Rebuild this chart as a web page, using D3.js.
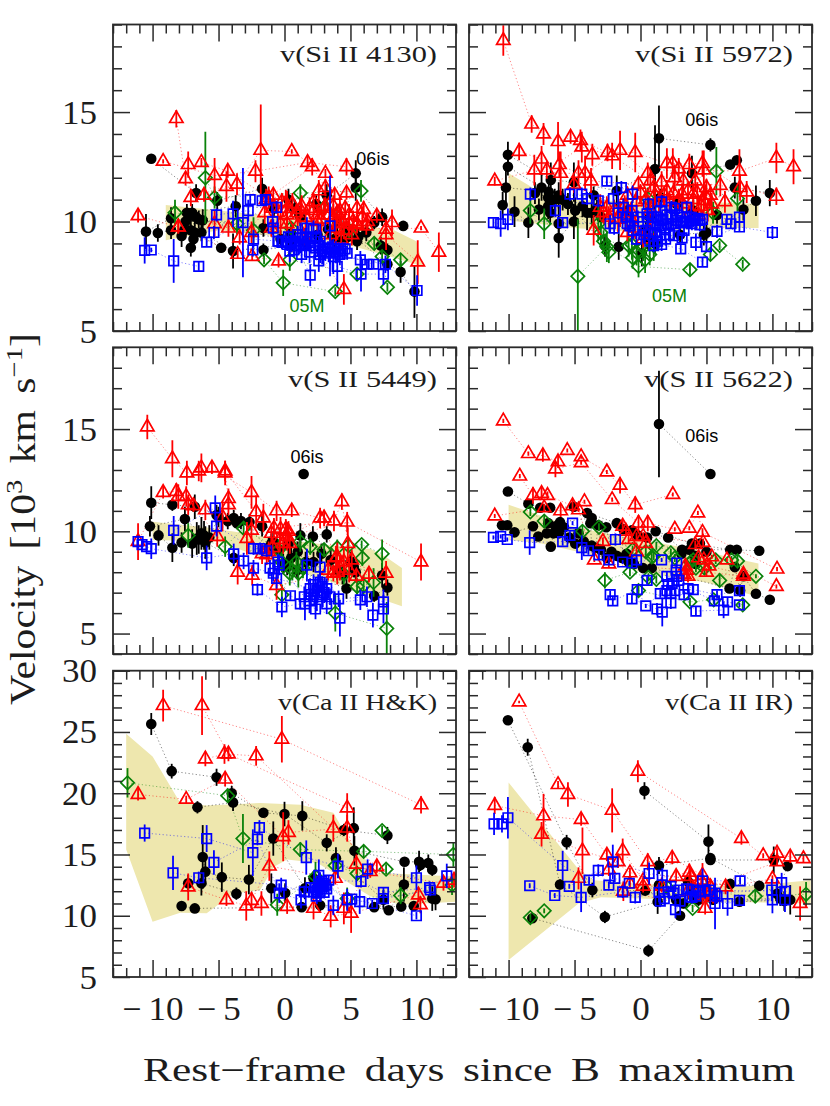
<!DOCTYPE html>
<html><head><meta charset="utf-8">
<script src="https://cdn.jsdelivr.net/npm/d3@7"></script>
<style>html,body{margin:0;padding:0;background:#fff}svg{display:block}</style></head>
<body><svg id="c" width="830" height="1106"></svg>
<script>
// Each series is a list of supernova tracks; each point is [day, velocity, error] (10^3 km/s)
const si4130Band=[[-9,10.75],[-5,10.5],[0,10.2],[5,9.9],[8.3,9.6],[10,9.1],[10.5,7.95],[8,8.4],[5,8.9],[0,9.3],[-5,9.6],[-9,9.15]];
const si4130Black=[
[[-10.1,12.87,.15],[-6.7,11.3,.4],[-5.1,10.95,.4],[-1.7,11.5,.5],[.3,11,.5],[3.2,11.2,.5],[5.4,12.2,.6]],
[[-10.5,9.54,.8],[-8.6,10.15,.5],[-7.4,10.4,.4],[-3.7,10.7,.5],[-.8,10.6,.4],[1.2,10.2,.4],[4,10,.5],[5.4,11.55,.6],[7.4,10.2,.4],[9,9.8,.2]],
[[-9.6,9.48,.4],[-8.6,9.6,.4],[-7.5,10,.4],[-6.2,10.06,.5],[-1.6,9.7,.4],[.5,9.45,.4],[3.3,9.65,.4],[6.8,9.95,.3]],
[[-7.8,9.34,.5],[-7,10.4,.4],[-6.8,9.5,.5],[-4.8,8.8,.2],[-1.6,8.7,.3],[.55,8.9,.3],[2.5,9.4,.4],[4.3,9.1,.4],[5.5,9.1,.4],[7.3,8.9,.4],[7.8,8.7,.3]],
[[-7.1,9.6,.5],[-6.3,9.5,.4],[-7.1,8.8,.4],[-3.9,8.65,.8],[1.6,9.05,.4],[4.7,9.6,.4],[7.8,8.05,.3],[8.8,7.7,.5],[9.85,6.8,1.2]],
[[-7.6,9.6,.4],[-7.2,10.3,.3],[-6.9,9.2,.4],[-6.7,10.2,.3],[-6.5,10.1,.4],[-.3,9.2,.4],[.8,10.6,.4],[2.4,10.8,.4],[3.8,9.2,.4],[4.8,9.3,.4],[5.6,9.3,.4],[6.2,9.5,.4]]];
const si4130Green=[
[[-8.3,10.4,.6],[-3.6,9.9,.5],[-2.35,9.6,.6],[.5,9.7,.3],[3,10.65,.3],[4.9,9.6,.4],[6.8,9,.3],[8.8,8.25,.3]],
[[-6,12,2.1],[-5.3,11.1,.5],[1.2,11.3,.4],[5.8,11.4,.5]],
[[-1.55,8.25,.2],[-.1,7.2,.6],[3.85,6.8,.2]],
[[.4,8.25,.5],[5.5,7.6,.3],[7.4,8.4,.3],[7.8,7,.2]]];
const si4130Red=[
[[-11.1,10.26,.3],[-8.05,9.75,.3],[-5.3,9.9,.6],[-4.25,9.7,.4],[-2.5,9.5,.5],[.2,9.9,.4],[2.5,10,.5],[4.5,9.9,.4],[7.7,9.65,.4],[10.35,9.7,.1],[11.7,8.6,.9]],
[[-9.2,12.75,.1],[-5.3,12.1,.8],[-2.2,12.3,.5],[1.75,12.7,.3],[4.7,12.5,.4]],
[[-8.2,14.7,.4],[-7.3,12.6,.6],[-7.5,11.95,.3],[-7.1,11.1,.4],[-4.4,11.6,.7],[.1,10.85,.6],[3,10.6,.5],[6,10.55,.4],[8.15,9.95,.6]],
[[-6.3,12.7,.2],[-4.3,12.3,.3],[-1.2,11.1,.5],[2.1,12.5,.4],[3.1,11.55,.4],[4.7,11.3,.3],[7,10.25,.3],[7.7,9.4,.7],[10.1,8.15,1]],
[[-6.1,11.2,.3],[-3.6,11.7,.5],[-1.8,13.25,2.1],[.55,13.2,.1],[3.1,12.2,.2],[3.8,11.2,.3]],
[[-8.05,9.75,.3],[-3.55,8.5,.2],[-2.45,8.4,.2],[-.45,8.2,.3],[1.5,9.3,.4],[4.5,6.9,.7]],
[[-3.4,9.25,.3],[-1.5,10.4,.5],[-.85,11.2,.3],[.2,10.6,.8],[1.2,10.55,.5],[2.2,10.5,.5],[4.2,10.5,.7],[3.7,10.2,.6],[4.9,9.9,.6],[5.5,9.85,.4],[6.2,9.8,.4],[2.6,11.4,.5]],
[[-1.4,11,.5],[-1,9.7,.4],[-.9,10.6,.4],[-.5,10.4,.5],[-.3,9.9,.5],[-.2,10.9,.4],[.2,10.3,.5],[.6,10.8,.5],[.9,10.4,.4],[1,9.8,.4],[1.3,10.7,.5],[1.6,10.2,.6],[1.9,10.6,.5],[2.2,10.9,.4],[2.5,10.3,.5],[2.8,10.1,.6],[3.1,10.7,.4],[3.4,10.3,.5],[3.5,9.4,.5],[3.7,10.7,.5],[3.9,9.7,.6],[4,10.4,.4],[4.3,10.1,.5],[4.3,9.2,.5],[4.5,9.6,.4],[4.6,10.6,.4],[4.9,10.3,.5],[5.1,9.4,.5],[5.2,10,.5],[5.5,10.6,.4],[5.5,9.9,.4],[5.9,10.2,.5],[6.3,10,.4]]];
const si4130Blue=[
[[-10.6,8.68,.6],[-10.1,8.7,.1],[-8.4,8.2,1],[-6.5,7.95,.2]],
[[-5.9,9.06,.2],[-3.15,9.95,2.5],[-.85,9.7,.4],[.4,8.65,.5],[2.85,8.65,.6],[5.75,8.25,.4],[7.65,8.05,.4],[10.05,6.85,.7]],
[[-5.35,9.5,.3],[-3.9,10.35,.6],[-2.35,9.2,.4],[-.45,9.1,.3],[1.3,8.5,.4],[2.6,8.2,.5],[4,7.95,.9],[5.8,7.6,.8],[7.5,7.6,.5]],
[[-5.15,10.3,.3],[-2.75,10.5,.5],[-.9,10,.6],[1.2,9.25,.7],[2.7,9.1,.8],[3.45,9.8,2.3],[4.75,8.55,.3],[6.25,8.05,.2]],
[[-2.6,11,.2],[-1.7,10.95,.2],[-1.45,11,.2],[-.6,10.65,.3],[.2,8.95,.3],[1.7,9.7,.5],[3.45,8.55,.5],[4.2,8.5,.5],[6.75,8.05,.2]],
[[-2.4,8.7,.3],[.9,8.9,.4],[2.2,9.65,.4],[1.95,7.55,.5],[3.7,8.4,.8]],
[[-.5,9.1,.3],[-.2,9.05,.3],[.1,9.1,.4],[.3,9.3,.3],[.5,9,.4],[.7,8.7,.3],[.8,9.1,.3],[1,9.4,.4],[1.1,8.9,.4],[1.4,8.95,.3],[1.6,9.3,.4],[1.8,9.1,.4],[1.9,8.6,.5],[2,8.9,.3],[2.3,8.8,.4],[2.4,9.3,.3],[2.6,8.9,.4],[2.7,8.5,.4],[2.9,8.75,.3],[3.1,8.6,.4],[3.3,8.8,.3],[3.6,8.75,.4],[3.9,8.6,.5],[4.1,8.75,.3],[4.4,8.65,.4],[4.6,8.75,.3]]];

const si5972Band=[[-10,12.2],[-7.5,11.3],[-5,11],[0,10.9],[5,10.9],[8.95,10.8],[8.95,9.7],[5,9.7],[0,9.5],[-5,9.7],[-10,10.05]];
const si5972Black=[
[[-10.05,13.05,.6],[-6.8,11.9,.8],[-5.05,11.8,.9],[-1.8,11.4,.7],[1.1,12.4,2],[3.9,12.2,.8],[6.8,12.6,.2],[7.3,12.8,.2]],
[[-10.05,12.5,.4],[-7.5,11.55,.6],[-6.2,11.2,.6],[-3.55,11.2,.4],[-1,10.5,.6],[1.5,11.1,.4],[4,10.5,.5],[7.15,11.55,.5],[9.8,11.3,.6]],
[[-10.2,11.55,.8],[-6.95,11.35,.5],[-4.95,10.5,.6],[-2.7,8.9,.5],[-1.65,8.85,.6],[.1,8.55,.6],[.5,9.25,.5],[2.75,10.8,.4],[4.8,9.4,.5],[7.8,10.55,.5],[8.75,10.95,.7]],
[[-10.45,10.75,.6],[-9.55,10.45,.7],[-8.5,9.95,.7],[-7.7,10.55,.5],[-6.85,10.4,.5],[-6.2,9.9,.8],[-6.2,9.25,.9],[-5.05,10,.8],[-4.05,10.4,.8]],
[[1.4,13.8,1.5],[5.3,13.5,.3]],
[[-8,11.3,.5],[-7,11.1,.5],[-7,10.7,.6],[-6.5,11,.5],[-5.9,11,.5],[-5.5,10.8,.5],[-4.4,10.7,.5],[-3.7,10.4,.5],[-3.3,10.6,.4],[-3,10.2,.5],[.4,9.6,.4],[.7,10.2,.5],[1.1,9,.5],[3,9.4,.4],[5,9.5,.5],[5.8,10.3,.4]]];
const si5972Green=[
[[-8.35,10.5,.6],[-7.3,9.9,.7],[-3.2,9.9,.8],[-2.8,9.1,.5],[-.65,8.95,.7],[1,8.9,.7],[5.5,10.4,.5],[7.35,11.05,.6]],
[[-4.75,7.5,2.6],[-2.55,8.85,.7],[-.15,7.95,.5],[3.75,7.8,.3]],
[[-.6,8.35,.5],[.35,8.25,.6],[.55,11.05,.5],[5.75,12.3,1.1]],
[[5.3,8.5,.3],[6,8.9,.2],[7.75,8.05,.2]],
[[-3,9.5,.5],[-2.4,8.6,.5],[-.9,8.9,.5],[-.3,8.6,.6],[.2,8.8,.6],[.7,8.5,.5]]];
const si5972Red=[
[[-10.4,18.27,.7],[-8.25,14.45,.4],[-7.35,14,.5],[-6.25,13.65,.9],[-5.3,13.85,.3],[-4.55,13.7,.5],[-2.5,13.15,.4],[-.4,13.15,.9],[2,12.65,.7],[4.7,12.65,.6],[7.55,11.55,.6],[10.3,11.15,.4]],
[[-11.05,11.85,.2],[-8.05,12.35,.7],[-6.05,12.2,1],[-4.2,12.2,.8],[-1.55,13.25,.9],[.55,12.2,.5],[2.45,12.65,.7],[4.8,12.35,.9],[7.5,12.3,1],[10.3,12.9,.7],[11.6,12.5,.8]],
[[-9.2,13.2,.4],[-7.5,12.85,.6],[-7.1,12.35,.4],[-4.45,13.4,.7],[-2.15,13,.6],[.75,11.85,.5],[3.25,11.85,.6],[6.05,11.65,.5],[8.05,11.35,.5]],
[[-6.15,12.6,.6],[-4.7,12.2,.6],[-3.75,11.85,.6],[-.15,11.7,.3],[1.6,11.8,.5],[2.6,12,.6],[4.15,11.85,.5],[5,11.55,.4],[6.4,10.9,.5]],
[[-3.65,13.05,.5],[-3.55,9.6,.7],[-3.05,10.65,.6],[-1.55,10.35,.6],[-.8,10.2,.6],[1,11.55,.4],[2,11.4,.5],[3.15,11.25,.5],[4,11.25,.5],[5.3,11.2,.5],[4.8,10.95,.6]],
[[-5.05,11.7,.4],[-2.55,10.65,.5],[2.9,12.4,.5],[3.7,12.6,.5]],
[[-2.8,10.4,.5],[-2.4,10.2,.5],[-2,10.5,.5],[-1.7,10.1,.6],[-1.2,10.7,.5],[-1,11.2,.4],[-1,9.5,.4],[-.7,10.4,.5],[-.4,9.7,.5],[-.3,10.9,.5],[0,11.3,.4],[.2,9.2,.4],[.4,11,.5],[.7,10.5,.5],[.7,9.6,.4],[1.1,11.2,.5],[1.4,10.9,.5],[1.8,11.2,.4],[2.2,10.9,.5],[2.5,11.3,.5],[2.9,11,.5],[3.2,10.8,.5],[3.6,11.4,.4],[3.8,10.4,.5],[4,11,.5],[4.3,11.3,.5],[4.4,10.3,.5],[4.6,10.7,.5],[4.9,11.2,.5],[5.1,10.5,.5],[5.4,10.8,.5]]];
const si5972Blue=[
[[-11.15,9.95,.2],[-10.6,9.9,.6],[-10.05,10.1,.5],[-5.9,9.95,.2],[-2.3,9.9,.4],[.25,9.4,.4],[2.5,9.35,.2],[4.2,9.05,.4],[7.5,9.75,.2],[10,9.5,.3]],
[[-8.35,11.25,.3],[-5.35,11.25,.3],[-4.45,11.25,.3],[-3.2,10.95,.3],[-1.45,11.55,.3],[-.6,11.25,.4],[.5,10.35,.3],[1.5,10.5,.4],[2.35,10.65,.3],[3.5,10.65,.3],[6.55,10.1,.2],[7.5,10.2,.2]],
[[-6.45,10.5,.3],[-4.05,11.05,.3],[-2.55,11.85,.2],[-2.05,11.05,.4],[-1.3,10.65,.4],[-.65,10.5,.4],[1,10.2,.3],[2,9.9,.3],[2.75,10.05,.3],[4,10.05,.3],[5.8,9.55,.3],[6.85,9.9,.2]],
[[-.55,9.6,.4],[1.25,9.4,.3],[1.5,10.05,.3],[3.15,9.25,.2],[3.5,9.95,.3],[4.5,10.05,.3]],
[[-1,9.9,.3],[1.6,8.95,.3],[3.05,8.75,.2],[4.7,8.15,.2],[5,8.85,.2]],
[[-2,9.7,.3],[-1.7,10.4,.3],[-1.1,10.2,.3],[-.8,9.8,.3],[-.3,9.2,.3],[-.2,10.2,.3],[.2,10,.3],[.4,9.6,.3],[.6,10.2,.3],[.6,10.8,.3],[.7,9.1,.3],[.9,9.9,.3],[1,8.9,.3],[1.1,9.5,.3],[1.2,10.2,.3],[1.3,9.1,.3],[1.4,9.8,.3],[1.6,10.9,.3],[1.7,10.1,.3],[1.9,9.7,.3],[1.9,9.2,.3],[2,10.3,.3],[2.2,9.4,.3],[2.3,10.2,.3],[2.5,9.9,.3],[2.6,10.6,.3],[2.8,10.3,.3],[3,9.95,.3],[3.2,10.2,.3],[3.3,9.6,.3],[3.4,10,.3],[3.7,10.2,.3],[3.9,9.9,.3],[4.2,10.15,.3],[4.5,9.85,.3],[4.7,10.1,.3]]];

const s5449Band=[[-10,10.47],[-6,10.2],[-3,9.9],[0,9.6],[5,9.2],[6.5,9.15],[7.8,8.7],[8.9,8.2],[8.9,6.34],[5,7.2],[0,8.3],[-5,9.5],[-10,9.57]];
const s5449Black=[
[[-10.1,11.4,.8],[-8.5,11.3,.3],[-6.8,11.2,.6],[-5.15,10.8,.5],[-3.85,10.65,.4],[-2.65,10.45,.4],[-1.7,10.25,.5],[1.2,9.8,.6],[3.2,9.85,.4]],
[[-10.2,10.25,.5],[-7.55,10.6,.6],[-6.3,9.9,.8],[-3.6,10.4,.3],[.3,9.35,.5],[2.15,9.75,.5],[5.25,8.25,.5],[7.4,7.85,.6]],
[[-9.55,9.8,.5],[-8.5,9.2,.7],[-7.8,9.45,.5],[-6.65,9.65,.8],[-6,9.45,.8],[-3.85,8.7,.4],[-.85,9.5,.5],[.2,8.25,.4],[.95,8.1,.4],[4.7,7.2,.5],[7.8,7.25,.4],[6.8,6.85,.3]],
[[1.45,12.8,.1]],
[[-7,9.4,.7],[-6.5,9.6,.7],[-6.1,9.8,.7],[-5.7,9.7,.6],[-5,10.7,.5],[-4.3,10.5,.4],[-3.3,10.5,.4],[-1.2,9.2,.5],[-1,9.4,.5],[-.4,9.1,.5],[-.1,8.4,.5],[.5,8.7,.5],[1,9,.5],[1.6,8.5,.5],[2.2,8.5,.5],[2.8,8.9,.5],[3.5,8.6,.5],[4,8.1,.5],[4.4,7.9,.5],[5,8.5,.5],[5.4,8,.5]]];
const s5449Green=[
[[-7.3,9.8,.6],[-4.5,9.25,.5],[-3.1,10.15,.3],[-.45,9.1,.5],[1.2,9.5,.5],[1.95,9.25,.4],[3,9.1,.3],[4,9.2,.4],[4.85,9.3,.3],[5.85,9.35,.2],[7.4,8.9,.7]],
[[-.2,6.9,.5],[.4,7.95,.6],[1.05,7.95,.7],[5.5,7.3,.4],[6,7.35,.5],[6.75,7.5,.7]],
[[3.85,6,.9],[7.75,5.25,1.3]],
[[-.2,8.5,.5],[.6,8.1,.5],[.9,8.5,.5],[1.4,8.2,.5],[4.5,7.9,.5],[5.9,8.7,.4]]];
const s5449Red=[
[[-10.4,15.1,.6],[-8.5,13.55,.9],[-7.4,12.85,.6],[-5.5,13.1,.3],[-2.5,11.9,.8],[-.6,11,.5],[.55,11,.3],[2.7,10.65,.5]],
[[-6.5,12.95,.5],[-4.5,12.95,.5],[-2.15,10.95,.8],[-1.6,10.65,.7],[.2,9.75,.7],[4.75,10.45,.5],[10.35,8.5,.9]],
[[-6.3,13.1,.7],[-4.5,12.85,.6],[-4.25,11.6,.5],[-4.25,11.3,.5],[-2.5,10.05,.6],[-.8,10.15,.5],[3.75,10.5,.5],[4.35,11.45,.4],[4.8,9.4,.8]],
[[-11.1,9.5,.9],[-9.2,11.9,.3],[-8.2,11.95,.4],[-7.45,11.7,.5],[-6,11.05,.5],[-4.7,10.7,.7],[-2.85,9.65,.8],[-1.35,8.85,.5],[.3,10,.5],[4,8.75,.7],[4.5,8.5,.7],[7.7,7.95,.6]],
[[-8.05,11.7,.6],[-7.3,11.3,.5],[-6.9,11.25,.3],[-5.1,9.75,.5],[-3.55,8,.6],[-2.45,7.85,.5],[-.6,7.35,.7],[3.7,7.95,.4],[5.45,7.8,.3],[6.4,7.9,.4]],
[[-.35,9.6,.6],[3,10.65,.4],[4,8,.6]],
[[-1.7,8.9,.5],[-1.2,9,.5],[-1,9.9,.5],[-.9,9.2,.5],[-.3,10.1,.6],[-.1,9.4,.5],[.1,10.1,.5],[.4,9.4,.5],[3.3,8.1,.5],[3.9,8.7,.6],[4.2,8.2,.6],[4.9,8.1,.6],[5.1,8.6,.5]]];
const s5449Blue=[
[[-11.1,9.5,.3],[-10.8,9.35,.2],[-10.45,9.25,.2],[-10.1,9.15,.5],[-5.9,8.7,.6],[-3.85,8.9,.5],[-3.1,8.55,.4],[-2.35,8.2,.4],[-.85,7.95,.4],[.45,6.85,.2],[2.35,6.2,.5],[4.2,5.75,.9]],
[[-8.4,10.05,.7],[-5.25,11.15,.6],[-5.15,10.25,.5],[-2.35,9.15,.3],[-1.85,9.15,.3],[-1.35,9.05,.3],[-.4,8.35,.5],[1.7,8.35,.8],[2.7,8.25,.7],[4.1,6.7,.4],[6.25,6.8,.5],[7.5,6.55,.6]],
[[-2.05,7.15,.3],[-.2,6.3,.5],[1.2,6.45,.2],[1.55,6.45,.8],[2.85,7.3,.5],[3.2,6.45,.5],[5.75,6.65,.5],[6.7,5.9,.6],[7.5,6.2,.7]],
[[-.6,7.7,.5],[1.95,7.2,.5],[2.45,6.8,.7],[2.55,7.4,.5],[3.45,6.8,.4]],
[[-1.1,8.2,.4],[-.5,8.5,.4],[1.5,6.8,.5],[1.9,6.6,.6],[2,6.9,.5],[2.2,7.4,.5],[2.5,7.1,.6],[2.7,7.5,.5],[2.9,6.9,.6],[3,7,.5],[3.2,7.2,.5]]];

const s5622Band=[[-10,11.3],[-5,10.2],[0,9.6],[5,9],[7,8.7],[8.94,8.43],[8.94,6.8],[5,7.5],[0,8],[-2,8.6],[-7.5,9.4],[-10,9.57]];
const s5622Black=[
[[-10.05,11.95,.1],[-8.5,11.35,.2],[-7.6,11.15,.2],[-6.85,11.15,.2],[-5.05,11.2,.2],[-4.05,10.9,.2],[-1.8,10.4,.2],[1.15,10,.2],[3.9,9.4,.2],[6.8,9.1,.2],[9,9.05,.1]],
[[-10.5,10.3,.1],[-10.1,10.3,.2],[-9.55,9.95,.1],[-8.15,10.25,.2],[-7.75,9.75,.1],[-7.1,9.9,.2],[-6.1,10.45,.1],[-3.7,10.65,.2],[-.65,10.05,.2],[2.1,9.7,.2],[3.15,9.1,.2],[7.3,9.1,.1]],
[[-6.8,9.25,.1],[-6.45,10.25,.2],[-4.95,9.4,.2],[-2.55,8.7,.2],[-1.05,8.9,.2],[.2,8.2,.2],[.85,8.2,.2],[6.75,7.2,.2],[7.15,8.25,.2],[7.8,7.8,.2],[7.55,7.1,.3],[8.75,6.95,.1],[9.8,6.65,.1]],
[[1.4,15.25,2.6],[5.3,12.8,.1]],
[[-7,10.4,.2],[-6.6,9.9,.2],[-6.2,9.9,.2],[-5.8,10.2,.2],[-5.4,9.7,.2],[-4.7,9.9,.2],[-4.3,9.5,.2],[-3.8,10.4,.2],[-3.7,9.3,.2],[-3.4,9.2,.2],[-3.2,10.3,.2],[-3,9.1,.2],[-2.6,10.2,.2],[-2.2,9,.2],[-1.8,8.8,.2],[-1.4,8.7,.2],[-1.3,10.1,.2],[-.9,8.5,.2],[-.5,8.4,.2],[-.2,9.8,.2],[.5,9.7,.2],[3.1,8.9,.2],[3.7,9.1,.2],[4.1,8.8,.2],[4.2,8.4,.2],[4.5,9.4,.2],[5,9,.2]]];
const s5622Green=[
[[-8.35,10.95,.2],[-7.3,10.5,.3],[-4.4,10,.3],[-3.15,10.2,.2],[-.6,9.1,.2],[.85,8.75,.3],[2.3,8.95,.2],[4,8.6,.2],[5.7,8.6,.2],[6.9,8.6,.2],[8.75,7.8,.1]],
[[-2.7,7.6,.4],[-.8,8,.2],[.6,7.75,.2],[1.2,7.65,.2],[1.2,9.3,.2],[4.85,8.2,.3],[6,7.6,.3],[7.35,8.55,.3]],
[[-.15,7.1,.3],[3.75,6.55,.2],[5.55,6.65,.2],[7.75,6.4,.2]],
[[.4,9,.2],[1,8.8,.2],[2.6,8.7,.2],[3.8,8.5,.2],[4.2,8.2,.2]]];
const s5622Red=[
[[-10.4,15.4,.1],[-8.5,13.8,.1],[-7.4,13.7,.3],[-6.25,13.4,.3],[-5.55,13.95,.1],[-4.5,13.65,.1],[-2.55,12.9,.1],[-1.55,12.25,.4],[-.4,11.3,.4],[2.45,11.8,.1]],
[[-6.45,13.05,.4],[-4.5,13.35,.1],[-2.15,11.55,.1],[-.15,10.4,.4],[.55,10.4,.4],[2.6,10.1,.1],[3.7,10.15,.1],[4.35,10.9,.1],[4.7,9.95,.2],[10.35,8.15,.1]],
[[-9.15,12.7,.1],[-8.15,11.75,.4],[-7.5,11.85,.3],[-7.05,11.75,.2],[-5.15,11.25,.3],[-4.25,11.45,.1],[-2.85,9.5,.2],[-1.35,10.25,.3],[-.3,9.75,.2],[.2,9.75,.2],[4.75,9.45,.2],[5.4,8.75,.1],[6.55,8.6,.1],[10.3,7.3,.1]],
[[-11.05,10.75,.1],[-7.3,11.15,.2],[-6.05,11,.3],[-4.7,11.05,.1],[-3.5,8.6,.1],[-2.4,8.4,.2],[3.5,8.1,.4],[4.15,9.35,.2],[5,8,.2],[7.8,7.8,.1]],
[[-1.1,10,.2],[-.9,9.6,.2],[-.3,9,.2],[.4,9.4,.2],[3.3,7.9,.3],[3.4,8.3,.3],[3.6,7.8,.3],[4.4,8.7,.2],[4.8,8.6,.2],[5.2,8.3,.2],[7.8,7.9,.1]]];
const s5622Blue=[
[[-11.15,9.7,.1],[-10.6,9.75,.1],[-10.1,9.6,.1],[-8.4,9.45,.6],[-5.9,9.5,.2],[-4.45,9.2,.6],[-3.15,8.85,.2],[-1.35,8.5,.1],[1.6,8.6,.1],[2.75,8.45,.2]],
[[-5.35,9.8,.2],[-5.15,10.4,.1],[-3.95,9.05,.2],[-2.4,8.6,.2],[-1.9,9.6,.3],[-.65,8.45,.2],[-.3,8.6,.2],[2,7.8,.2],[2.75,7.8,.2],[4,7.15,.2],[5.8,6.9,.2],[7.5,7.1,.2]],
[[-2.3,6.9,.2],[-2.1,6.6,.2],[-.25,7.15,.2],[.4,6.35,.1],[1.5,6.95,.2],[2.3,6.95,.3],[3.3,6.9,.2],[3.6,7.2,.2],[5.6,6.6,.2],[6.6,6.55,.2],[7.5,6.4,.1]],
[[-.65,6.7,.2],[1.25,6.2,.3],[1.65,6.05,.7],[2.3,6.5,.3],[2.4,7.45,.3],[4.2,6.1,.2],[6.3,6.15,.4]],
[[.5,7.6,.2],[2,7.1,.3],[2.1,7.4,.3],[2.6,7.1,.2],[2.7,8.1,.3],[2.9,7.6,.3]]];

const caHKBand=[[-12,24.85],[-10,23],[-7.9,19.2],[-5.9,19],[-1.85,19.2],[1.2,19.05],[3.7,18.4],[5,16],[7,13.5],[13,13.2],[13,11.15],[8.8,10.9],[6.5,11.6],[5,12.6],[3.7,13.5],[2.5,14.3],[.2,14.6],[-.8,14],[-1.85,12.1],[-3.9,11.8],[-5.9,10.2],[-7.9,10.25],[-10,9.5],[-12,15.4]];
const caHKBlack=[
[[-10.1,25.65,.9],[-8.55,21.8,.6],[-5.15,21.3,.7],[-4,20,.6],[-1.6,18.4,.3],[1.35,18.15,1.2],[4.5,17,.5],[7.8,16.55,.7]],
[[-6.6,18.85,.5],[-3.9,19.25,.7],[0,18.3,1],[3.2,15.95,.7],[5.25,17.15,1.7],[5.3,15.3,1.2],[9.1,14.4,.3],[10.2,14.4,.9]],
[[-6.2,14.8,2.6],[-6,13.6,1],[-4.75,13.15,1.2],[-2.7,12.95,1.2],[-.85,16.3,1.4],[1.55,12.25,.9],[3.9,14.7,.9],[7.5,11.3,.8],[9.05,12.55,1.4],[10.9,14.3,.7]],
[[-7.3,12.65,.7],[-6.3,12.65,1],[-3.65,11.8,.5],[-1,12.25,1.2],[.05,11.85,.8],[2.2,13.05,.6],[2.7,10.85,.5],[6.8,10.7,.3],[7.9,10.45,.2],[10.3,14.15,.5],[11.2,13.75,.5]],
[[-7.8,10.8,.2],[-6.8,10.6,.2],[1.3,10.7,.2],[8.85,10.75,.4],[9.8,10.8,.4],[11.2,11.4,1],[11.45,11.35,.9]]];
const caHKGreen=[
[[-11.9,20.85,1.2],[-4.3,19.8,.5],[-3.15,16.3,2],[1.2,15.4,.6],[6,15.25,.5],[12.8,15,1]],
[[-.55,10.9,.9],[2.35,13.2,1.2],[4.75,11.4,.9],[8.8,11.65,.7],[12.7,12.5,.8]],
[[3.85,14.1,.5],[5.5,13.45,.6],[7.7,13.8,.4]],
[[7.4,16.95,.4]]];
const caHKRed=[
[[-9.2,27.15,1.3],[-.2,24.4,1.9],[10.35,19.05,.7]],
[[-6.25,27.15,2.4],[-4.25,23.2,.6],[4.75,18.8,1.2]],
[[-6,22.8,.6],[-4.55,23.2,.8],[-2.15,23.05,.8],[3.7,17.15,1.1],[7,14,.5]],
[[-11.1,19.9,.5],[-7.45,19.5,.3],[-4.5,21.15,.6],[-.1,16.45,2],[.3,16.8,1],[4.75,17.15,1.1],[5.45,14.2,.8]],
[[-7.3,12.35,1.1],[-4.4,11.3,.5],[-2.9,10.8,1.2],[-1.75,11,1],[.2,10.75,.6],[2.2,10.6,.9],[3.5,9.95,.9],[5.05,10.2,1.6],[10.15,11.7,.6],[10.3,10.9,.7]],
[[-2.5,11.25,.7],[-1.15,14.05,1.2],[3.85,13.05,.5],[4.5,10.6,1.3],[6.5,13.6,.5],[12.05,12.65,.6],[12.85,12.9,.6]]];
const caHKBlue=[
[[-10.6,16.75,.7],[-5.9,16.3,1.1],[-2.4,15.15,1.9],[-1.9,17.2,.6],[1.65,14.75,1.4],[4.05,14.05,1],[6.3,13.8,.8],[10,13.1,1]],
[[-8.45,13.5,1.4],[-6.5,13.1,.5],[-.25,12.5,.6],[1.5,11.95,.5],[2.7,12.35,1.2],[3.35,12.9,.4],[5.8,12.8,.5],[7.5,11.9,.4],[11,12.3,.5],[12.3,13.25,1]],
[[-5.35,14.35,1],[-2.05,16.25,.5],[-.4,11.85,.8],[1.25,11.3,.7],[2.2,11.95,.5],[2.45,11.85,.9],[3.7,10.85,.8],[5.1,11.35,.4],[6.65,11,.3],[10,10,.3]],
[[2.6,13.3,1.3],[2.95,12.65,.5],[4.75,11.3,.9],[5.7,11.15,1],[7.5,11.4,.4],[11.05,12.1,.5]],
[[2,12.3,.4],[2.3,12.3,.4],[2.4,11.6,.4],[2.5,12.1,.5],[2.6,12.6,.4],[2.7,12,.5],[2.8,12.8,.4],[2.9,12.4,.4],[3,11.9,.5],[3.1,12.5,.4],[3.2,12.2,.4]]];

const caIRBand=[[-10,20.87],[-4.7,13.8],[-3.5,12.9],[3,12.4],[8,12.4],[12.9,12.9],[12.9,11],[8,11.1],[3,11.3],[-3,11.5],[-4.7,11],[-10,6.38]];
const caIRBlack=[
[[-10.05,25.95,.2],[-5.6,16,.6],[-3.65,12.1,.6],[.35,12.05,.3],[3.25,11,.4],[7.5,11.15,.3],[11.35,11.3,1.2]],
[[-8.55,23.75,.7],[-6.1,12.55,.4],[-2.7,9.9,.5],[1.3,11.15,1],[3.9,12.35,.4],[6.8,12.6,.4],[9,12.45,.4]],
[[-8.2,9.8,.2],[.6,7.15,.5],[3,10,.3]],
[[.3,20.2,.7],[5.15,16.05,1.4],[5.3,14.55,.3],[10.1,14.55,1.1]],
[[1.4,14.1,.7],[5.3,14.7,.3],[10.35,11.8,.8],[11.15,14.05,.3]],
[[1.4,12.5,.4],[2.7,11.3,.5],[3.6,12.8,.4],[4,11.5,.5],[4.4,11.3,.5],[5.5,11.3,.4],[10.6,11.4,.6],[10.9,11.2,.8]]];
const caIRGreen=[
[[-8.35,9.85,.3],[-7.3,10.4,.2]],
[[2,12.35,.5],[3.95,10.6,.3],[5,11.95,1],[8.7,11.6,.5],[12.55,11.75,1]]];
const caIRRed=[
[[-9.2,27.45,.1],[-6.25,20.7,.3],[-5.5,19.9,1],[-2.15,18.6,1.8],[.55,14.4,.7],[2.4,14.7,.5],[4.7,13.3,1]],
[[-11.05,19,.7],[-7.35,18.15,1.8],[-4.5,17.85,.5],[-2.55,14.95,.5],[-.8,13.5,.4],[2.7,13.2,.5],[5.3,12.35,.5]],
[[-.2,21.8,.9],[7.65,16.3,.5],[9.3,14.9,.2],[10.35,15.1,.4],[11.35,14.8,.5],[12.35,14.65,.3]],
[[-7.5,16.65,1],[-4.4,15.3,1.9],[-1.7,14.4,.5],[-1.35,15.3,1],[.2,12.85,.4],[3.7,13.55,.7],[6.45,12.35,.6],[10,13,.3],[12.1,11,1.4]],
[[-4.7,13.05,.9],[-2.4,13.75,.5],[-1.3,12,.8],[4.9,10.6,.5],[5.3,12.35,.5],[10.35,14.4,.3]],
[[-.8,12.6,.4],[.2,12.4,.5],[1.6,12.4,.5],[3.6,12,.6],[3.8,13.2,.6],[4,12.2,.6],[4.4,12,.7],[4.6,12.9,.6],[4.7,11.7,.8],[5,11.8,.7],[5.5,11.5,.5]]];
const caIRBlue=[
[[-11.1,17.5,.9],[-10.5,17.5,.7],[-10.05,18,1.7],[-5.9,14.1,1.2],[-3.9,12.9,.3],[-2.1,14.4,1.4],[.65,13.45,.9],[1.65,13.3,.6],[4.7,12.85,1],[7.55,12.85,.3]],
[[-8.4,12.45,.2],[-6.5,11.65,.2],[-4.5,11.5,1.2],[-1.35,11.95,.5],[-.4,11.5,.5],[1.4,11.9,.8],[2.9,12.1,.4],[4.4,11.95,.6],[5.65,11.85,.8],[9.95,12.1,.9]],
[[-5.4,12.4,.2],[-3.2,13.7,.5],[-2.4,12.5,.3],[-1.95,13.05,.3],[-.85,12.65,.2],[2.1,11.95,.5],[2.65,10.5,.7],[3.75,11.55,.3],[5.65,11,2.1],[6.6,11,1],[7.5,11.25,.4],[10,11.3,1.1],[10.7,12.7,.8],[10.95,11.3,1]],
[[2.5,11.85,.6],[4,12.1,.5],[10.95,12,.4]],
[[1.5,11.2,.5],[1.8,11.4,.5],[2.3,12.4,.4],[3,11.2,.4],[3.5,12.2,.4],[3.9,11.5,.5],[4.2,11.6,.5],[4.9,12,.6],[5.2,12.1,.5],[5.8,11.6,.6]]];

const dayTicks=[-10,-5,0,5,10];
const velTicks=[5,10,15];
const caTicks=[5,10,15,20,25,30];
const panelTitles=["v(Si II 4130)","v(Si II 5972)","v(S II 5449)","v(S II 5622)","v(Ca II H&K)","v(Ca II IR)"];
const xTitle="Rest−frame days since B maximum";

const W={l:[113,456],r:[469,812]};
const rows=[[24.5,331],[347.3,654],[670.7,977]];
const panels=[
 {x:W.l,y:rows[0],dom:[5,19],ticks:velTicks,band:si4130Band,s:[si4130Black,si4130Green,si4130Red,si4130Blue],title:[280,157,62],labels:[["06is",6.7,12.87,"#000"],["05M",1.7,6.15,"#0a820a"]]},
 {x:W.r,y:rows[0],dom:[5,19],ticks:velTicks,band:si5972Band,s:[si5972Black,si5972Green,si5972Red,si5972Blue],title:[635,158,62],labels:[["06is",4.65,14.65,"#000"],["05M",2.2,6.6,"#0a820a"]]},
 {x:W.l,y:rows[1],dom:[4,19],ticks:velTicks,band:s5449Band,s:[s5449Black,s5449Green,s5449Red,s5449Blue],title:[288,149,387],labels:[["06is",1.7,13.65,"#000"]]},
 {x:W.r,y:rows[1],dom:[4,19],ticks:velTicks,band:s5622Band,s:[s5622Black,s5622Green,s5622Red,s5622Blue],title:[644,149,387],labels:[["06is",4.65,14.65,"#000"]]},
 {x:W.l,y:rows[2],dom:[5,30],ticks:caTicks,band:caHKBand,s:[caHKBlack,caHKGreen,caHKRed,caHKBlue],title:[278,159,710],labels:[],bottom:true},
 {x:W.r,y:rows[2],dom:[5,30],ticks:caTicks,band:caIRBand,s:[caIRBlack,caIRGreen,caIRRed,caIRBlue],title:[665,128,710],labels:[],bottom:true}
];
const colors=["#000","#0a820a","#f00","#00f"];
const serif="'Liberation Serif',serif";
const svg=d3.select("#c");
const frame="#2a2a2a", ink="#1c1c1c";
const sym=[d3.symbol().type(d3.symbolCircle).size(88)(),d3.symbol().type(d3.symbolSquare).size(90)(),d3.symbol().type(d3.symbolTriangle).size(78)(),d3.symbol().type(d3.symbolSquare).size(90)()];
const digitW=d=>String(d).length*17.5;

panels.forEach((p,i)=>{
 const x=d3.scaleLinear().domain([-13,13]).range(p.x);
 const y=d3.scaleLinear().domain(p.dom).range([p.y[1],p.y[0]]);
 const g=svg.append("g");
 const id="clip"+i;
 svg.append("clipPath").attr("id",id).append("rect").attr("x",p.x[0]).attr("y",p.y[0]).attr("width",p.x[1]-p.x[0]).attr("height",p.y[1]-p.y[0]);
 const body=g.append("g").attr("clip-path",`url(#${id})`);
 body.append("path").attr("d",d3.line().x(d=>x(d[0])).y(d=>y(d[1])).curve(d3.curveLinearClosed)(p.band)).attr("fill","#eee7ae");
 const line=d3.line().x(d=>x(d[0])).y(d=>y(d[1]));
 p.s.forEach((tracks,k)=>{
  body.append("g").selectAll("path").data(tracks).join("path")
   .attr("d",t=>line(t.slice().sort((a,b)=>a[0]-b[0]))).attr("fill","none")
   .attr("stroke",colors[k]).attr("stroke-width",.8).attr("stroke-dasharray","1.2 2.4").attr("opacity",.6);
 });
 p.s.forEach((tracks,k)=>{
  const pts=tracks.flat();
  const sg=body.append("g");
  sg.selectAll("line").data(pts).join("line")
   .attr("x1",d=>x(d[0])).attr("x2",d=>x(d[0])).attr("y1",d=>y(d[1]-d[2])).attr("y2",d=>y(d[1]+d[2]))
   .attr("stroke",colors[k]).attr("stroke-width",1.8);
  sg.selectAll("path").data(pts).join("path").attr("d",sym[k])
   .attr("transform",d=>`translate(${x(d[0])},${y(d[1])})${k===1?" rotate(45)":""}`)
   .attr("fill",k===0?"#000":"none").attr("stroke",colors[k]).attr("stroke-width",k===0?0:1.7);
 });
 p.labels.forEach(l=>{
  g.append("text").text(l[0]).attr("x",x(l[1])).attr("y",y(l[2])).attr("text-anchor","middle").attr("dominant-baseline","central")
   .attr("font-family","'Liberation Sans',sans-serif").attr("font-size",18).attr("fill",l[3]);
 });
 const minorY=d3.range(p.dom[0],p.dom[1]+1), minorX=d3.range(-13,14);
 const mk=(axis,sc,vals,len,tr)=>{
  const a=g.append("g").attr("transform",tr).call(axis(sc).tickValues(vals).tickSize(len).tickFormat("").tickSizeOuter(0));
  a.select(".domain").remove();
  a.selectAll("line").attr("stroke",frame).attr("stroke-width",1.5);
 };
 const isMaj=v=>v%5===0;
 mk(d3.axisBottom,x,minorX.filter(v=>!isMaj(v)),-9,`translate(0,${p.y[1]})`);
 mk(d3.axisBottom,x,dayTicks,-17,`translate(0,${p.y[1]})`);
 mk(d3.axisTop,x,minorX.filter(v=>!isMaj(v)),-9,`translate(0,${p.y[0]})`);
 mk(d3.axisTop,x,dayTicks,-17,`translate(0,${p.y[0]})`);
 mk(d3.axisLeft,y,minorY.filter(v=>!isMaj(v)),-9,`translate(${p.x[0]},0)`);
 mk(d3.axisLeft,y,p.ticks,-17,`translate(${p.x[0]},0)`);
 mk(d3.axisRight,y,minorY.filter(v=>!isMaj(v)),-9,`translate(${p.x[1]},0)`);
 mk(d3.axisRight,y,p.ticks,-17,`translate(${p.x[1]},0)`);
 g.append("rect").attr("x",p.x[0]).attr("y",p.y[0]).attr("width",p.x[1]-p.x[0]).attr("height",p.y[1]-p.y[0]).attr("fill","none").attr("stroke",frame).attr("stroke-width",1.8);
 g.append("text").text(panelTitles[i]).attr("x",p.title[0]).attr("y",p.title[2]).attr("textLength",p.title[1]).attr("lengthAdjust","spacingAndGlyphs")
  .attr("font-family",serif).attr("font-size",23).attr("fill",ink);
 const num=(s,xs,ys,w)=>g.append("text").text(s).attr("x",xs).attr("y",ys).attr("textLength",w).attr("lengthAdjust","spacingAndGlyphs").attr("font-family",serif).attr("font-size",33).attr("fill",ink);
 if(p.x===W.l){
  p.ticks.forEach(v=>num(v,97-digitW(v),y(v)+11.5,digitW(v)));
 }
 if(p.bottom){
  dayTicks.forEach(v=>{
   const a=Math.abs(v), w=digitW(a), total=v<0?w+26:w, left=x(v)-total/2+.5;
   if(v<0) num("−",left,1019.5,19);
   num(a,left+total-w,1019.5,w);
  });
 }
});
// y title with true superscripts, stretched to the reference's extent
const yt=svg.append("text").attr("font-family",serif).attr("font-size",35).attr("word-spacing",5).attr("fill",ink).attr("transform","translate(35,705) rotate(-90)");
yt.append("tspan").text("Velocity [10");
yt.append("tspan").text("3").attr("font-size",24).attr("dy",-13);
yt.append("tspan").text(" km s").attr("dy",13);
yt.append("tspan").text("−1").attr("font-size",24).attr("dy",-13);
yt.append("tspan").text("]").attr("dy",13);
const yLen=yt.node().getComputedTextLength();
yt.attr("transform",`translate(35,705) rotate(-90) scale(${372/yLen},1)`);
svg.append("text").text(xTitle).attr("x",143).attr("y",1080.7).attr("textLength",652).attr("lengthAdjust","spacingAndGlyphs").attr("word-spacing",6).attr("font-family",serif).attr("font-size",33).attr("fill",ink);
</script></body></html>
